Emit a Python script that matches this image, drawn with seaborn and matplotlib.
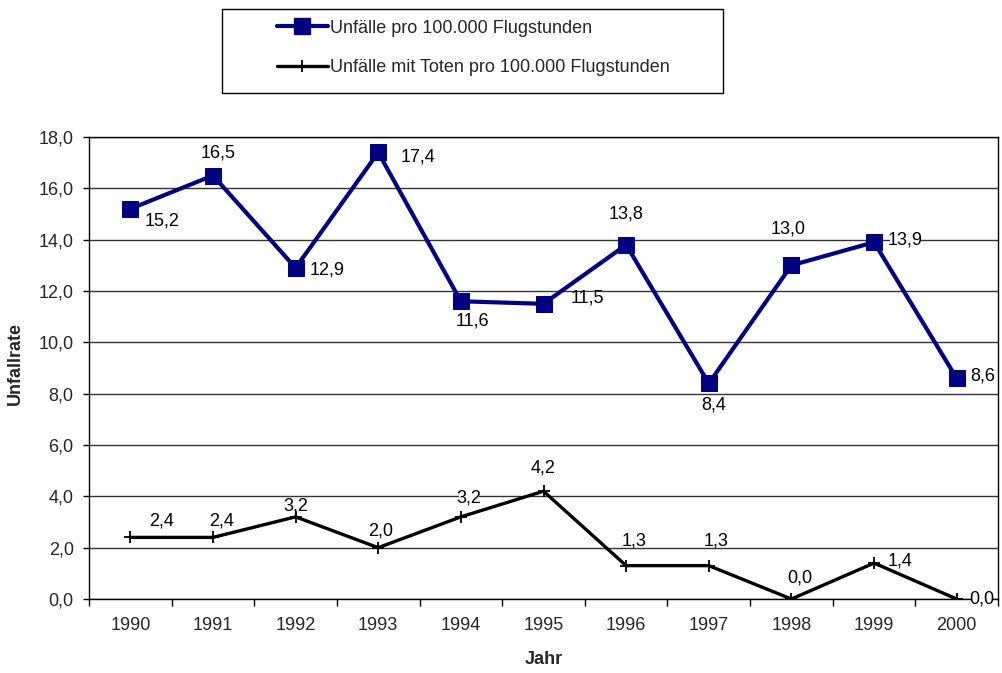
import matplotlib
matplotlib.use('Agg')
import matplotlib.pyplot as plt
import seaborn as sns
import pandas as pd
import numpy as np
from matplotlib.lines import Line2D
from matplotlib.patches import Rectangle

# ---- data ----
years = ['1990', '1991', '1992', '1993', '1994', '1995', '1996', '1997', '1998', '1999', '2000']
unfaelle = [15.2, 16.5, 12.9, 17.4, 11.6, 11.5, 13.8, 8.4, 13.0, 13.9, 8.6]
unfaelle_toten = [2.4, 2.4, 3.2, 2.0, 3.2, 4.2, 1.3, 1.3, 0.0, 1.4, 0.0]
series_names = ['Unfälle pro 100.000 Flugstunden',
                'Unfälle mit Toten pro 100.000 Flugstunden']
y_ticks = [0, 2, 4, 6, 8, 10, 12, 14, 16, 18]
x_title = 'Jahr'
y_title = 'Unfallrate'

# ---- label offsets (layout, in pixels: dx right, dy down) ----
off_blue = [(32, 12), (5, -23), (32, 2), (40, 5), (12, 20), (44, -6),
            (0, -31), (5, 22), (-3, -36), (31, -2), (26, -2)]
off_black = [(31, -16), (9, -16), (0, -11), (2, -17), (8, -19), (0, -23),
             (8, -25), (7, -25), (8, -21), (26, -2), (25, 0)]

sns.set_theme(style='white')
plt.rcParams['font.family'] = ['Liberation Sans', 'DejaVu Sans']
FS = 13

fig = plt.figure(figsize=(10.02, 6.73), dpi=100)
W, H = 1002, 673
ax = fig.add_axes([89 / W, 1 - 599 / H, 909 / W, 462 / H])

pos = list(range(len(years)))
df1 = pd.DataFrame({'pos': pos, 'val': unfaelle})
df2 = pd.DataFrame({'pos': pos, 'val': unfaelle_toten})

blue = '#000080'
sns.lineplot(data=df1, x='pos', y='val', ax=ax, color=blue, lw=3,
             marker='s', markersize=11.5, markeredgecolor=blue,
             markerfacecolor=blue, zorder=5)
sns.lineplot(data=df2, x='pos', y='val', ax=ax, color='black', lw=2.4,
             marker='+', markersize=8, markeredgewidth=1.3,
             markeredgecolor='black', zorder=5)

def fmt(v):
    return f"{v:.1f}".replace('.', ',')

k = 0.72
box = dict(boxstyle='square,pad=-0.12', fc='white', ec='none')
for i, v in enumerate(unfaelle):
    dx, dy = off_blue[i]
    ax.annotate(fmt(v), (pos[i], v), xytext=(dx * k, -dy * k),
                textcoords='offset points', ha='center', va='center',
                fontsize=FS, color='black', zorder=4, bbox=box)
for i, v in enumerate(unfaelle_toten):
    dx, dy = off_black[i]
    ax.annotate(fmt(v), (pos[i], v), xytext=(dx * k, -dy * k),
                textcoords='offset points', ha='center', va='center',
                fontsize=FS, color='black', zorder=4, annotation_clip=False,
                bbox=box)

ax.set_xlim(-0.5, len(years) - 0.5)
ax.set_ylim(0, 18)
ax.set_yticks(y_ticks)
ax.set_yticklabels([fmt(t) for t in y_ticks], fontsize=FS)
ax.set_xticks(pos)
ax.set_xticklabels(years, fontsize=FS)
ax.set_xticks(np.arange(-0.5, len(years), 1), minor=True)
ax.tick_params(axis='x', which='major', length=0, pad=13, bottom=True)
ax.tick_params(axis='x', which='minor', length=5, width=1, color='black',
               direction='out', bottom=True)
ax.tick_params(axis='y', which='major', length=4, width=1, color='black',
               direction='out', left=True, pad=7)

ax.yaxis.grid(True, color='#333333', lw=1)
ax.xaxis.grid(False)
ax.set_axisbelow(True)
for s in ax.spines.values():
    s.set_color('black')
    s.set_linewidth(1)

ax.set_xlabel(x_title, fontsize=FS, fontweight='bold')
ax.set_ylabel(y_title, fontsize=FS, fontweight='bold')
ax.xaxis.set_label_coords(0.5, -0.132)
ax.xaxis.label.set_va('center')
ax.yaxis.set_label_coords(-0.0814, 0.509)
ax.yaxis.label.set_va('center')

# legend
fig.patches.append(Rectangle((222 / W, 1 - 93 / H), 501 / W, 84 / H,
                             transform=fig.transFigure, fill=False,
                             ec='black', lw=1))
handles = [Line2D([], [], color=blue, lw=3, marker='s', markersize=11.5,
                  markerfacecolor=blue, markeredgecolor=blue),
           Line2D([], [], color='black', lw=2.4, marker='+', markersize=8,
                  markeredgewidth=1.3)]
fig.legend(handles, series_names, loc='center left',
           bbox_to_anchor=(277 / W, 1 - 48 / H), frameon=False,
           handlelength=2.8, handletextpad=0.15, labelspacing=1.25,
           borderpad=0, borderaxespad=0, fontsize=FS)

fig.savefig('out.png', dpi=100)
